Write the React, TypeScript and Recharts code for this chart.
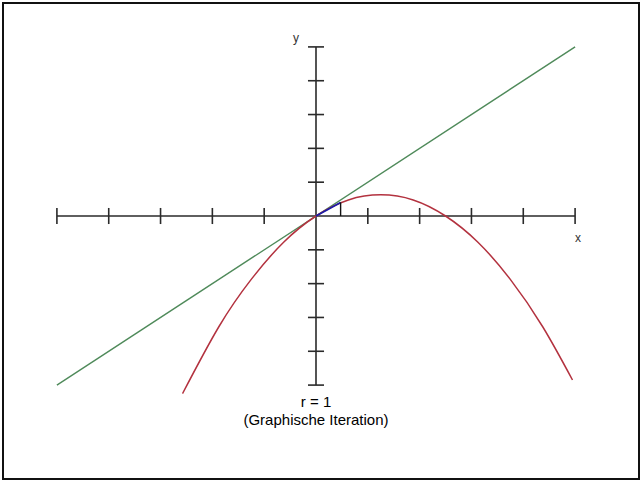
import React from 'react';
import { ComposedChart, Line, XAxis, YAxis, ReferenceLine, ReferenceDot } from 'recharts';

// axis ticks, every 0.4 from -2 to 2
const xTicks = [-2, -1.6, -1.2, -0.8, -0.4, 0.4, 0.8, 1.2, 1.6, 2];
const yTicks = [-2, -1.6, -1.2, -0.8, -0.4, 0.4, 0.8, 1.2, 1.6, 2];

// diagonal y = x
const diagX = [-2, 2];
const diagY = [-2, 2];

// f(x) for r = 1
const curveX = [-1.03, -0.75, -0.5, -0.25, 0, 0.25, 0.5, 0.75, 1, 1.25, 1.5, 1.75, 1.98];
const curveY = [-2.1, -1.31, -0.75, -0.31, 0, 0.19, 0.25, 0.19, 0, -0.31, -0.75, -1.31, -1.94];

// first step of the iteration
const stepX = [0, 0.19];
const stepY = [0, 0.16];

const rValue = 1;
const title = '(Graphische Iteration)';

const diagData = diagX.map((x, i) => ({ x, y: diagY[i] }));
const curveData = curveX.map((x, i) => ({ x, y: curveY[i] }));
const stepData = stepX.map((x, i) => ({ x, y: stepY[i] }));

const AXIS = '#2a2a2a';
const TICK_X = 0.095; // half tick length in y units
const TICK_Y = 0.062; // half tick length in x units

export default function App() {
  return (
    <div
      style={{
        position: 'absolute',
        left: 0,
        top: 0,
        width: 642,
        height: 482,
        background: '#fff',
        fontFamily: 'Arial, "Liberation Sans", sans-serif',
      }}
    >
      <div
        style={{
          position: 'absolute',
          left: 2,
          top: 2,
          width: 638,
          height: 478,
          border: '2px solid #111',
          boxSizing: 'border-box',
        }}
      />
      <ComposedChart
        width={642}
        height={482}
        margin={{ top: 30, right: 41, bottom: 80, left: 31 }}
        style={{ position: 'absolute', left: 0, top: 0 }}
      >
        <XAxis type="number" dataKey="x" domain={[-2.2, 2.2]} hide allowDataOverflow />
        <YAxis type="number" dataKey="y" domain={[-2.2, 2.2]} hide allowDataOverflow />

        <ReferenceLine segment={[{ x: -2, y: 0 }, { x: 2, y: 0 }]} stroke={AXIS} strokeWidth={1.6} />
        <ReferenceLine segment={[{ x: 0, y: -2 }, { x: 0, y: 2 }]} stroke={AXIS} strokeWidth={1.6} />
        {xTicks.map((t) => (
          <ReferenceLine
            key={'xt' + t}
            segment={[{ x: t, y: -TICK_X }, { x: t, y: TICK_X }]}
            stroke={AXIS}
            strokeWidth={1.6}
          />
        ))}
        {yTicks.map((t) => (
          <ReferenceLine
            key={'yt' + t}
            segment={[{ x: -TICK_Y, y: t }, { x: TICK_Y, y: t }]}
            stroke={AXIS}
            strokeWidth={1.6}
          />
        ))}

        <Line
          data={diagData}
          dataKey="y"
          type="linear"
          stroke="#4f8a5a"
          strokeWidth={1.4}
          dot={false}
          isAnimationActive={false}
        />
        <Line
          data={curveData}
          dataKey="y"
          type="natural"
          stroke="#b3323f"
          strokeWidth={1.5}
          dot={false}
          isAnimationActive={false}
        />
        <Line
          data={stepData}
          dataKey="y"
          type="linear"
          stroke="#1c1ca8"
          strokeWidth={1.8}
          dot={false}
          isAnimationActive={false}
        />
        <ReferenceLine
          segment={[{ x: stepX[1], y: 0 }, { x: stepX[1], y: stepY[1] }]}
          stroke="#111"
          strokeWidth={1.4}
        />

        <ReferenceDot
          x={2}
          y={0}
          r={0}
          stroke="none"
          label={(p: any) => (
            <text x={p.viewBox.x + 3} y={p.viewBox.y + 26} textAnchor="middle" fontSize={12} fill="#333">
              x
            </text>
          )}
        />
        <ReferenceDot
          x={0}
          y={2}
          r={0}
          stroke="none"
          label={(p: any) => (
            <text x={p.viewBox.x - 20} y={p.viewBox.y - 5} textAnchor="middle" fontSize={12} fill="#333">
              y
            </text>
          )}
        />
      </ComposedChart>
      <div
        style={{
          position: 'absolute',
          left: 0,
          width: 632,
          top: 393,
          textAlign: 'center',
          fontSize: 15,
          lineHeight: '18px',
          color: '#000',
        }}
      >
        <div>r = {rValue}</div>
        <div>{title}</div>
      </div>
    </div>
  );
}
